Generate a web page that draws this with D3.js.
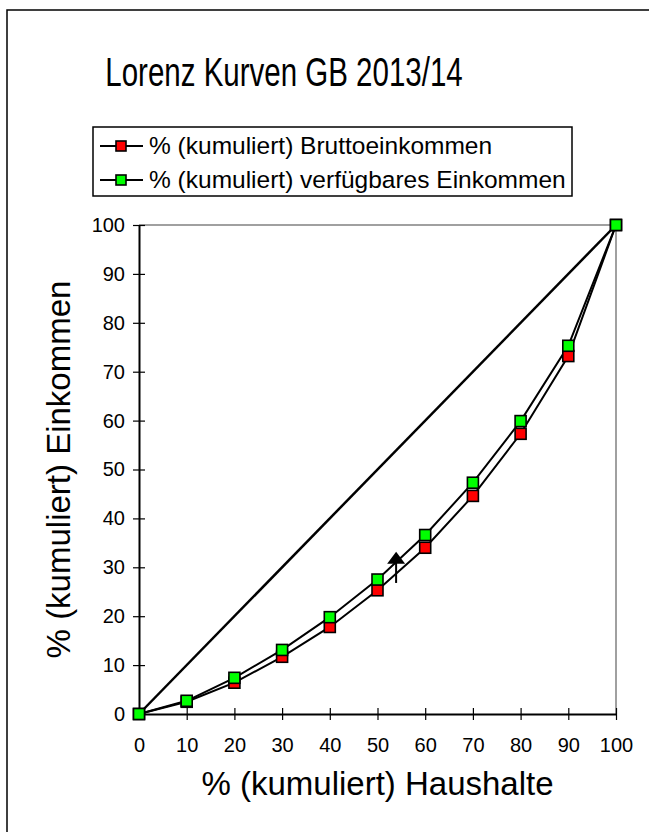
<!DOCTYPE html>
<html><head><meta charset="utf-8">
<script src="https://cdn.jsdelivr.net/npm/d3@7"></script>
<style>body{margin:0;background:#fff}svg{display:block;font-family:"Liberation Sans",Arial,sans-serif}</style>
</head><body><svg id="c" width="649" height="832"></svg>
<script>
const households = [0,10,20,30,40,50,60,70,80,90,100];
const grossIncome = [0,2.5,6.4,11.7,17.8,25.3,34.0,44.6,57.3,73.2,100];
const disposableIncome = [0,2.7,7.4,13.1,19.8,27.5,36.6,47.3,59.9,75.3,100];
const equality = [0,100];
const xTicks = [0,10,20,30,40,50,60,70,80,90,100];
const yTicks = [0,10,20,30,40,50,60,70,80,90,100];
const seriesNames = ["% (kumuliert) Bruttoeinkommen","% (kumuliert) verfügbares Einkommen"];
const seriesColors = ["#ff0000","#00ff00"];
const arrowX = [53.9];
const arrowY = [26.8,33.2];

const svg = d3.select("#c");
svg.append("rect").attr("x",7).attr("y",10).attr("width",700).attr("height",900)
  .attr("fill","none").attr("stroke","#000").attr("stroke-width",1.5);

const x = d3.scaleLinear().domain([0,100]).range([139,616]);
const y = d3.scaleLinear().domain([0,100]).range([714,225]);

svg.append("text").attr("transform","translate(284,86) scale(1,1.35)").attr("text-anchor","middle")
  .attr("font-size",29.5).text("Lorenz Kurven GB 2013/14");

// plot area gray borders
svg.append("line").attr("x1",x(0)).attr("x2",x(100)).attr("y1",y(100)).attr("y2",y(100)).attr("stroke","#808080").attr("stroke-width",1.5);
svg.append("line").attr("x1",x(100)).attr("x2",x(100)).attr("y1",y(0)).attr("y2",y(100)).attr("stroke","#808080").attr("stroke-width",1.5);

// axes
const xa = svg.append("g").attr("transform",`translate(0,${y(0)})`)
  .call(d3.axisBottom(x).tickValues(xTicks).tickSize(6).tickPadding(18).tickSizeOuter(0));
xa.selectAll(".tick line").attr("y1",-6);
const ya = svg.append("g").attr("transform",`translate(${x(0)},0)`)
  .call(d3.axisLeft(y).tickValues(yTicks).tickSize(6).tickPadding(8).tickSizeOuter(0));
ya.selectAll(".tick line").attr("x1",6);
[xa,ya].forEach(a=>{
  a.select(".domain").attr("stroke","#000").attr("stroke-width",2);
  a.selectAll(".tick line").attr("stroke","#000").attr("stroke-width",1.2);
  a.selectAll("text").attr("font-size",20).attr("fill","#000").attr("font-family","Liberation Sans, Arial, sans-serif");
});

svg.append("text").attr("x",x(50)).attr("y",795).attr("text-anchor","middle")
  .attr("font-size",33).text("% (kumuliert) Haushalte");
svg.append("text").attr("transform",`translate(70,${y(50)}) rotate(-90)`).attr("text-anchor","middle")
  .attr("font-size",33).text("% (kumuliert) Einkommen");

// equality line
svg.append("path").datum(equality)
  .attr("d",d3.line().x(d=>x(d)).y(d=>y(d)))
  .attr("stroke","#000").attr("stroke-width",2.5).attr("fill","none");

const line = d3.line().x((d,i)=>x(households[i])).y(d=>y(d));
const series = [grossIncome, disposableIncome];
series.forEach(s=>{
  svg.append("path").datum(s).attr("d",line).attr("stroke","#000").attr("stroke-width",2).attr("fill","none");
});
series.forEach((s,k)=>{
  svg.append("g").selectAll("rect").data(s).join("rect")
    .attr("x",(d,i)=>x(households[i])-5.5).attr("y",d=>y(d)-5.5)
    .attr("width",11).attr("height",11)
    .attr("fill",seriesColors[k]).attr("stroke","#000").attr("stroke-width",1.6);
});

// arrow
const ax = x(arrowX[0]);
svg.append("line").attr("x1",ax).attr("x2",ax).attr("y1",y(arrowY[0])).attr("y2",y(arrowY[1])+8)
  .attr("stroke","#000").attr("stroke-width",2);
svg.append("path").attr("d",`M${ax},${y(arrowY[1])} L${ax-9},${y(arrowY[1])+12} L${ax+9},${y(arrowY[1])+12}Z`).attr("fill","#000");

// legend
const lg = svg.append("g");
lg.append("rect").attr("x",93).attr("y",127).attr("width",479).attr("height",69)
  .attr("fill","#fff").attr("stroke","#000").attr("stroke-width",1.5);
seriesNames.forEach((n,k)=>{
  const cy = 146 + k*34;
  lg.append("line").attr("x1",100).attr("x2",143).attr("y1",cy).attr("y2",cy).attr("stroke","#000").attr("stroke-width",2);
  lg.append("rect").attr("x",116).attr("y",cy-5).attr("width",10).attr("height",10)
    .attr("fill",seriesColors[k]).attr("stroke","#000").attr("stroke-width",1.6);
  lg.append("text").attr("x",149).attr("y",cy+8).attr("font-size",24.5).text(n);
});
</script></body></html>
